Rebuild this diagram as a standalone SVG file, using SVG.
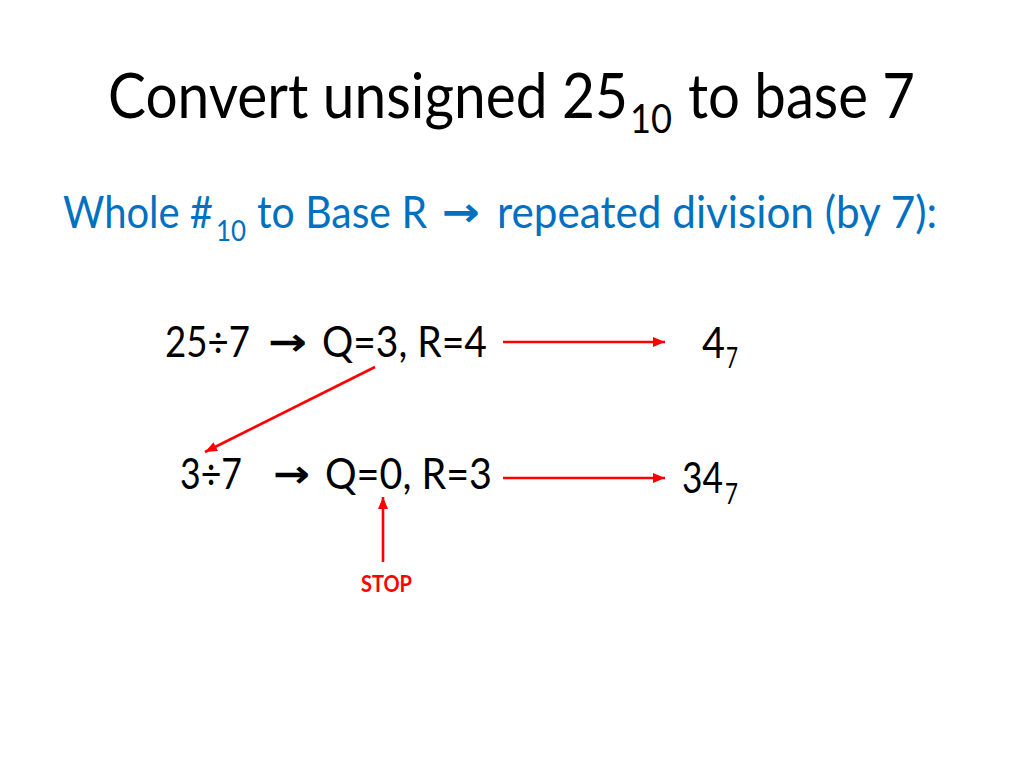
<svg xmlns="http://www.w3.org/2000/svg" width="1024" height="768" viewBox="0 0 1024 768">
  <style>
    .t { font-family: Lato, "Open Sans", "Liberation Sans", sans-serif; fill: #000; }
    .blue { fill: #0070C0; }
    .sym { font-family: "DejaVu Sans", sans-serif; font-weight: bold; }
    .con { stroke: #FF0000; stroke-width: 2.6; fill: none; marker-end: url(#ah); }
  </style>
  <defs>
    <marker id="ah" markerUnits="userSpaceOnUse" markerWidth="12" markerHeight="10" viewBox="0 0 12 10" refX="12" refY="5" orient="auto">
      <path d="M0,0 L12,5 L0,10 z" fill="#FF0000"/>
    </marker>
  </defs>
  <rect width="1024" height="768" fill="#fff"/>

  <g id="title">
    <text class="t" x="108" y="118" font-size="62" textLength="520" lengthAdjust="spacingAndGlyphs">Convert unsigned 25</text>
    <text class="t" x="630" y="133" font-size="40" textLength="42" lengthAdjust="spacingAndGlyphs">10</text>
    <text class="t" x="688" y="118" font-size="62" textLength="227" lengthAdjust="spacingAndGlyphs">to base 7</text>
  </g>

  <g id="subtitle">
    <text class="t blue" x="63" y="228" font-size="44" textLength="150" lengthAdjust="spacingAndGlyphs">Whole #</text>
    <text class="t blue" x="216" y="241" font-size="29" textLength="30" lengthAdjust="spacingAndGlyphs">10</text>
    <text class="t blue" x="257" y="228" font-size="44" textLength="170" lengthAdjust="spacingAndGlyphs">to Base R</text>
    <text class="t blue sym" x="442" y="226" font-size="40" textLength="38" lengthAdjust="spacingAndGlyphs">→</text>
    <text class="t blue" x="497" y="228" font-size="44" textLength="440" lengthAdjust="spacingAndGlyphs">repeated division (by 7):</text>
  </g>

  <g id="step1">
    <text class="t" x="165" y="357" font-size="42" textLength="85" lengthAdjust="spacingAndGlyphs">25÷7</text>
    <text class="t sym" x="268" y="355" font-size="38" textLength="39" lengthAdjust="spacingAndGlyphs">→</text>
    <text class="t" x="322" y="357" font-size="42" textLength="165" lengthAdjust="spacingAndGlyphs">Q=3, R=4</text>
  </g>

  <g id="result1">
    <text class="t" x="702" y="358" font-size="42" textLength="23" lengthAdjust="spacingAndGlyphs">4</text>
    <text class="t" x="726" y="368" font-size="28" textLength="12" lengthAdjust="spacingAndGlyphs">7</text>
  </g>

  <g id="step2">
    <text class="t" x="180" y="489" font-size="42" textLength="62" lengthAdjust="spacingAndGlyphs">3÷7</text>
    <text class="t sym" x="273" y="487" font-size="38" textLength="37" lengthAdjust="spacingAndGlyphs">→</text>
    <text class="t" x="325" y="489" font-size="42" textLength="167" lengthAdjust="spacingAndGlyphs">Q=0, R=3</text>
  </g>

  <g id="result2">
    <text class="t" x="682" y="493" font-size="42" textLength="41" lengthAdjust="spacingAndGlyphs">34</text>
    <text class="t" x="725" y="504" font-size="28" textLength="13" lengthAdjust="spacingAndGlyphs">7</text>
  </g>

  <g id="stop">
    <text x="361" y="592" font-family="Lato, 'Open Sans', 'Liberation Sans', sans-serif" font-weight="bold" font-size="22" fill="#FF0000" textLength="51" lengthAdjust="spacingAndGlyphs">STOP</text>
  </g>

  <g id="connectors">
    <line class="con" x1="503" y1="342" x2="665" y2="342"/>
    <line class="con" x1="375" y1="367" x2="205" y2="452"/>
    <line class="con" x1="503" y1="478" x2="665" y2="478"/>
    <line class="con" x1="383" y1="562" x2="383" y2="497"/>
  </g>
</svg>
